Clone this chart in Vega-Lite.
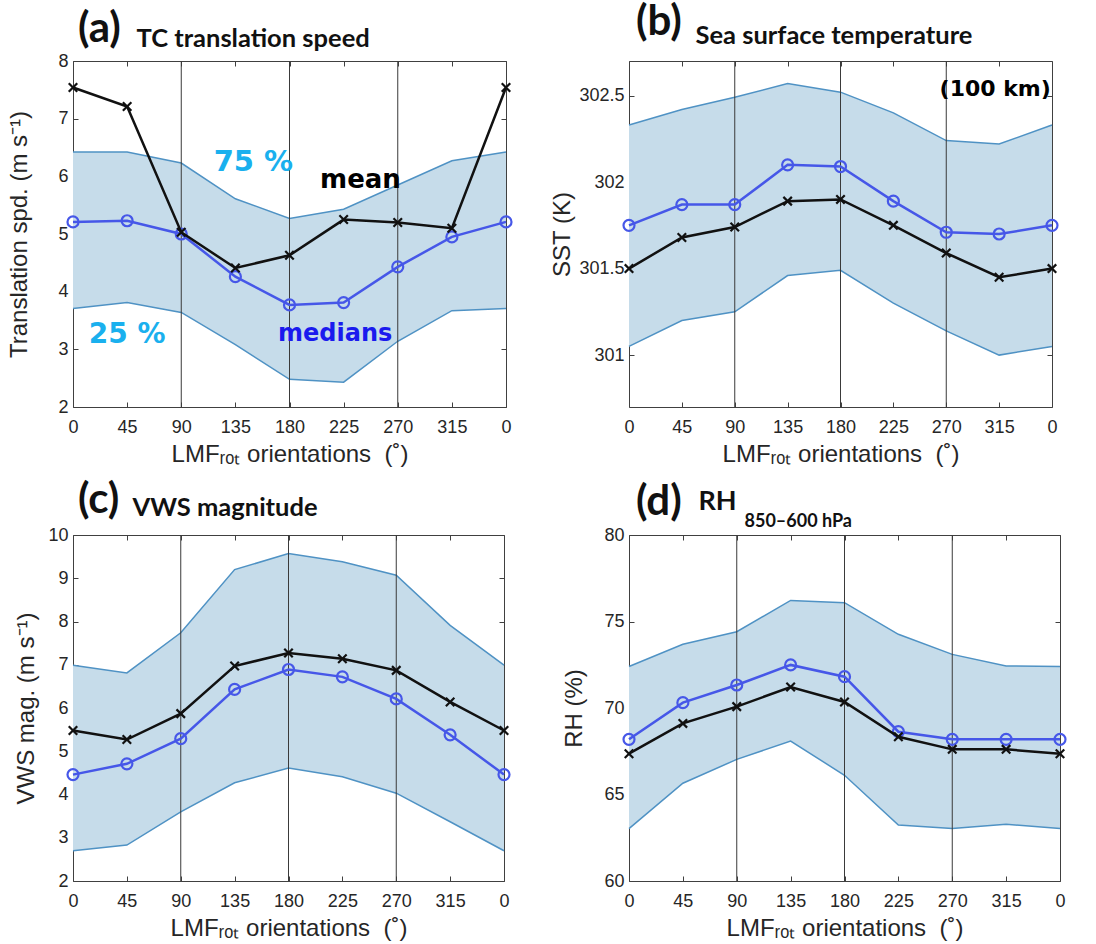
{
  "$schema": "https://vega.github.io/schema/vega-lite/v6.json",
  "background": "white",
  "padding": {"left": 7, "top": 1, "right": 5, "bottom": 5},
  "bounds": "flush",
  "columns": 2,
  "spacing": {"column": 123, "row": 128},
  "datasets": {
    "stats": [
      {"panel": "a", "deg": 0, "p25": 3.71, "p75": 6.42, "median": 5.21, "mean": 7.54},
      {"panel": "a", "deg": 45, "p25": 3.81, "p75": 6.42, "median": 5.23, "mean": 7.21},
      {"panel": "a", "deg": 90, "p25": 3.64, "p75": 6.23, "median": 5.0, "mean": 5.03},
      {"panel": "a", "deg": 135, "p25": 3.08, "p75": 5.61, "median": 4.26, "mean": 4.41},
      {"panel": "a", "deg": 180, "p25": 2.48, "p75": 5.27, "median": 3.77, "mean": 4.63},
      {"panel": "a", "deg": 225, "p25": 2.43, "p75": 5.43, "median": 3.81, "mean": 5.25},
      {"panel": "a", "deg": 270, "p25": 3.14, "p75": 5.85, "median": 4.43, "mean": 5.2},
      {"panel": "a", "deg": 315, "p25": 3.67, "p75": 6.27, "median": 4.95, "mean": 5.1},
      {"panel": "a", "deg": 360, "p25": 3.71, "p75": 6.42, "median": 5.21, "mean": 7.54},
      {"panel": "b", "deg": 0, "p25": 301.05, "p75": 302.33, "median": 301.75, "mean": 301.5},
      {"panel": "b", "deg": 45, "p25": 301.2, "p75": 302.42, "median": 301.87, "mean": 301.68},
      {"panel": "b", "deg": 90, "p25": 301.25, "p75": 302.49, "median": 301.87, "mean": 301.74},
      {"panel": "b", "deg": 135, "p25": 301.46, "p75": 302.57, "median": 302.1, "mean": 301.89},
      {"panel": "b", "deg": 180, "p25": 301.49, "p75": 302.52, "median": 302.09, "mean": 301.9},
      {"panel": "b", "deg": 225, "p25": 301.3, "p75": 302.4, "median": 301.89, "mean": 301.75},
      {"panel": "b", "deg": 270, "p25": 301.14, "p75": 302.24, "median": 301.71, "mean": 301.59},
      {"panel": "b", "deg": 315, "p25": 301.0, "p75": 302.22, "median": 301.7, "mean": 301.45},
      {"panel": "b", "deg": 360, "p25": 301.05, "p75": 302.33, "median": 301.75, "mean": 301.5},
      {"panel": "c", "deg": 0, "p25": 2.7, "p75": 6.99, "median": 4.46, "mean": 5.48},
      {"panel": "c", "deg": 45, "p25": 2.83, "p75": 6.81, "median": 4.71, "mean": 5.27},
      {"panel": "c", "deg": 90, "p25": 3.6, "p75": 7.74, "median": 5.29, "mean": 5.87},
      {"panel": "c", "deg": 135, "p25": 4.27, "p75": 9.2, "median": 6.43, "mean": 6.97},
      {"panel": "c", "deg": 180, "p25": 4.61, "p75": 9.57, "median": 6.89, "mean": 7.27},
      {"panel": "c", "deg": 225, "p25": 4.41, "p75": 9.38, "median": 6.72, "mean": 7.14},
      {"panel": "c", "deg": 270, "p25": 4.03, "p75": 9.07, "median": 6.21, "mean": 6.87},
      {"panel": "c", "deg": 315, "p25": 3.37, "p75": 7.91, "median": 5.38, "mean": 6.14},
      {"panel": "c", "deg": 360, "p25": 2.7, "p75": 6.99, "median": 4.46, "mean": 5.48},
      {"panel": "d", "deg": 0, "p25": 63.03, "p75": 72.4, "median": 68.19, "mean": 67.36},
      {"panel": "d", "deg": 45, "p25": 65.65, "p75": 73.68, "median": 70.31, "mean": 69.11},
      {"panel": "d", "deg": 90, "p25": 67.03, "p75": 74.41, "median": 71.33, "mean": 70.08},
      {"panel": "d", "deg": 135, "p25": 68.09, "p75": 76.22, "median": 72.49, "mean": 71.21},
      {"panel": "d", "deg": 180, "p25": 66.11, "p75": 76.09, "median": 71.81, "mean": 70.35},
      {"panel": "d", "deg": 225, "p25": 63.24, "p75": 74.26, "median": 68.63, "mean": 68.34},
      {"panel": "d", "deg": 270, "p25": 63.03, "p75": 73.1, "median": 68.19, "mean": 67.61},
      {"panel": "d", "deg": 315, "p25": 63.28, "p75": 72.43, "median": 68.19, "mean": 67.61},
      {"panel": "d", "deg": 360, "p25": 63.03, "p75": 72.4, "median": 68.19, "mean": 67.36}
    ],
    "dividers": [{"deg": 90}, {"deg": 180}, {"deg": 270}]
  },
  "data": {"name": "stats"},
  "concat": [
    {
      "width": 433, "height": 346,
      "title": {"text": "(a)", "anchor": "start", "frame": "group", "font": "Lato", "fontSize": 42, "fontWeight": "bold", "color": "#111111", "offset": 0, "dx": 5, "dy": 25},
      "transform": [{"filter": "datum.panel === 'a'"}],
      "resolve": {"axis": {"x": "independent", "y": "independent"}},
      "layer": [
        {"mark": {"type": "area", "color": "#c6dcea", "opacity": 1},
         "encoding": {
           "x": {"field": "deg", "type": "quantitative", "scale": {"domain": [0, 360], "nice": false},
                 "axis": {"orient": "bottom", "values": [0, 45, 90, 135, 180, 225, 270, 315, 360], "labelExpr": "'' + (datum.value % 360)", "title": "LMFᵣₒₜ orientations\u00a0 (˚)", "labelPadding": 16, "titlePadding": 6}},
           "y": {"field": "p25", "type": "quantitative", "scale": {"domain": [2, 8], "nice": false, "zero": false},
                 "axis": {"orient": "left", "values": [2, 3, 4, 5, 6, 7, 8], "format": "d", "title": "Translation spd. (m s⁻¹)", "labelPadding": 10, "titlePadding": 26}},
           "y2": {"field": "p75"}}},
        {"mark": {"type": "line", "color": "#4f92c4", "strokeWidth": 1.5},
         "encoding": {
           "x": {"field": "deg", "type": "quantitative",
                 "axis": {"orient": "top", "values": [0, 45, 90, 135, 180, 225, 270, 315, 360], "labels": false, "title": "TC translation speed", "titleFont": "Lato", "titleFontSize": 25.5, "titleFontWeight": "bold", "titleColor": "#111111", "titleAngle": 0, "titleAlign": "left", "titleBaseline": "alphabetic", "titleX": 63, "titleY": -15}},
           "y": {"field": "p75", "type": "quantitative",
                 "axis": {"orient": "right", "values": [2, 3, 4, 5, 6, 7, 8], "labels": false, "title": null}}}},
        {"mark": {"type": "line", "color": "#4f92c4", "strokeWidth": 1.5},
         "encoding": {"x": {"field": "deg", "type": "quantitative", "axis": null}, "y": {"field": "p25", "type": "quantitative", "axis": null}}},
        {"data": {"name": "dividers"}, "mark": {"type": "rule", "color": "#3a3a3a", "strokeWidth": 1},
         "encoding": {"x": {"field": "deg", "type": "quantitative", "axis": null}}},
        {"mark": {"type": "line", "color": "#4657e8", "strokeWidth": 2.5, "point": {"shape": "circle", "filled": false, "size": 121, "strokeWidth": 2.2, "color": "#4657e8"}},
         "encoding": {"x": {"field": "deg", "type": "quantitative", "axis": null}, "y": {"field": "median", "type": "quantitative", "axis": null}}},
        {"mark": {"type": "line", "color": "#111111", "strokeWidth": 2.5, "point": {"shape": "M-1,-1L1,1M-1,1L1,-1", "filled": false, "size": 72, "strokeWidth": 2.2, "color": "#111111"}},
         "encoding": {"x": {"field": "deg", "type": "quantitative", "axis": null}, "y": {"field": "mean", "type": "quantitative", "axis": null}}},
        {"data": {"values": [{"note": "75 %"}]},
         "mark": {"type": "text", "font": "DejaVu Sans", "fontWeight": "bold", "fontSize": 29, "color": "#1ab0ee", "align": "center", "baseline": "alphabetic"},
         "encoding": {"x": {"datum": 150, "type": "quantitative", "axis": null}, "y": {"datum": 6.1, "type": "quantitative", "axis": null}, "text": {"field": "note"}}},
        {"data": {"values": [{"note": "mean"}]},
         "mark": {"type": "text", "font": "DejaVu Sans", "fontWeight": "bold", "fontSize": 26, "color": "#000000", "align": "center", "baseline": "alphabetic"},
         "encoding": {"x": {"datum": 239, "type": "quantitative", "axis": null}, "y": {"datum": 5.79, "type": "quantitative", "axis": null}, "text": {"field": "note"}}},
        {"data": {"values": [{"note": "25 %"}]},
         "mark": {"type": "text", "font": "DejaVu Sans", "fontWeight": "bold", "fontSize": 28, "color": "#1ab0ee", "align": "center", "baseline": "alphabetic"},
         "encoding": {"x": {"datum": 45, "type": "quantitative", "axis": null}, "y": {"datum": 3.11, "type": "quantitative", "axis": null}, "text": {"field": "note"}}},
        {"data": {"values": [{"note": "medians"}]},
         "mark": {"type": "text", "font": "DejaVu Sans", "fontWeight": "bold", "fontSize": 24, "color": "#1a1aee", "align": "center", "baseline": "alphabetic"},
         "encoding": {"x": {"datum": 218, "type": "quantitative", "axis": null}, "y": {"datum": 3.15, "type": "quantitative", "axis": null}, "text": {"field": "note"}}}
      ]
    },
    {
      "width": 423, "height": 346,
      "title": {"text": "(b)", "anchor": "start", "frame": "group", "font": "Lato", "fontSize": 42, "fontWeight": "bold", "color": "#111111", "offset": 0, "dx": 7, "dy": 21},
      "transform": [{"filter": "datum.panel === 'b'"}],
      "resolve": {"axis": {"x": "independent", "y": "independent"}},
      "layer": [
        {"mark": {"type": "area", "color": "#c6dcea", "opacity": 1},
         "encoding": {
           "x": {"field": "deg", "type": "quantitative", "scale": {"domain": [0, 360], "nice": false},
                 "axis": {"orient": "bottom", "values": [0, 45, 90, 135, 180, 225, 270, 315, 360], "labelExpr": "'' + (datum.value % 360)", "title": "LMFᵣₒₜ orientations\u00a0 (˚)", "labelPadding": 16, "titlePadding": 6}},
           "y": {"field": "p25", "type": "quantitative", "scale": {"domain": [300.7, 302.7], "nice": false, "zero": false},
                 "axis": {"orient": "left", "values": [301, 301.5, 302, 302.5], "format": "~g", "title": "SST (K)", "labelPadding": 10, "titlePadding": 4}},
           "y2": {"field": "p75"}}},
        {"mark": {"type": "line", "color": "#4f92c4", "strokeWidth": 1.5},
         "encoding": {
           "x": {"field": "deg", "type": "quantitative",
                 "axis": {"orient": "top", "values": [0, 45, 90, 135, 180, 225, 270, 315, 360], "labels": false, "title": "Sea surface temperature", "titleFont": "Lato", "titleFontSize": 25.5, "titleFontWeight": "bold", "titleColor": "#111111", "titleAngle": 0, "titleAlign": "left", "titleBaseline": "alphabetic", "titleX": 66, "titleY": -18}},
           "y": {"field": "p75", "type": "quantitative",
                 "axis": {"orient": "right", "values": [301, 301.5, 302, 302.5], "labels": false, "title": null}}}},
        {"mark": {"type": "line", "color": "#4f92c4", "strokeWidth": 1.5},
         "encoding": {"x": {"field": "deg", "type": "quantitative", "axis": null}, "y": {"field": "p25", "type": "quantitative", "axis": null}}},
        {"data": {"name": "dividers"}, "mark": {"type": "rule", "color": "#3a3a3a", "strokeWidth": 1},
         "encoding": {"x": {"field": "deg", "type": "quantitative", "axis": null}}},
        {"mark": {"type": "line", "color": "#4657e8", "strokeWidth": 2.5, "point": {"shape": "circle", "filled": false, "size": 121, "strokeWidth": 2.2, "color": "#4657e8"}},
         "encoding": {"x": {"field": "deg", "type": "quantitative", "axis": null}, "y": {"field": "median", "type": "quantitative", "axis": null}}},
        {"mark": {"type": "line", "color": "#111111", "strokeWidth": 2.5, "point": {"shape": "M-1,-1L1,1M-1,1L1,-1", "filled": false, "size": 72, "strokeWidth": 2.2, "color": "#111111"}},
         "encoding": {"x": {"field": "deg", "type": "quantitative", "axis": null}, "y": {"field": "mean", "type": "quantitative", "axis": null}}},
        {"data": {"values": [{"note": "(100 km)"}]},
         "mark": {"type": "text", "font": "DejaVu Sans", "fontWeight": "bold", "fontSize": 22, "color": "#000000", "align": "right", "baseline": "alphabetic"},
         "encoding": {"x": {"datum": 359, "type": "quantitative", "axis": null}, "y": {"datum": 302.5, "type": "quantitative", "axis": null}, "text": {"field": "note"}}}
      ]
    },
    {
      "width": 431, "height": 346,
      "title": {"text": "(c)", "anchor": "start", "frame": "group", "font": "Lato", "fontSize": 42, "fontWeight": "bold", "color": "#111111", "offset": 0, "dx": 5, "dy": 27},
      "transform": [{"filter": "datum.panel === 'c'"}],
      "resolve": {"axis": {"x": "independent", "y": "independent"}},
      "layer": [
        {"mark": {"type": "area", "color": "#c6dcea", "opacity": 1},
         "encoding": {
           "x": {"field": "deg", "type": "quantitative", "scale": {"domain": [0, 360], "nice": false},
                 "axis": {"orient": "bottom", "values": [0, 45, 90, 135, 180, 225, 270, 315, 360], "labelExpr": "'' + (datum.value % 360)", "title": "LMFᵣₒₜ orientations\u00a0 (˚)", "labelPadding": 16, "titlePadding": 6}},
           "y": {"field": "p25", "type": "quantitative", "scale": {"domain": [2, 10], "nice": false, "zero": false},
                 "axis": {"orient": "left", "values": [2, 3, 4, 5, 6, 7, 8, 9, 10], "format": "d", "title": "VWS mag. (m s⁻¹)", "labelPadding": 10, "titlePadding": 9}},
           "y2": {"field": "p75"}}},
        {"mark": {"type": "line", "color": "#4f92c4", "strokeWidth": 1.5},
         "encoding": {
           "x": {"field": "deg", "type": "quantitative",
                 "axis": {"orient": "top", "values": [0, 45, 90, 135, 180, 225, 270, 315, 360], "labels": false, "title": "VWS magnitude", "titleFont": "Lato", "titleFontSize": 25.5, "titleFontWeight": "bold", "titleColor": "#111111", "titleAngle": 0, "titleAlign": "left", "titleBaseline": "alphabetic", "titleX": 59, "titleY": -20}},
           "y": {"field": "p75", "type": "quantitative",
                 "axis": {"orient": "right", "values": [2, 3, 4, 5, 6, 7, 8, 9, 10], "labels": false, "title": null}}}},
        {"mark": {"type": "line", "color": "#4f92c4", "strokeWidth": 1.5},
         "encoding": {"x": {"field": "deg", "type": "quantitative", "axis": null}, "y": {"field": "p25", "type": "quantitative", "axis": null}}},
        {"data": {"name": "dividers"}, "mark": {"type": "rule", "color": "#3a3a3a", "strokeWidth": 1},
         "encoding": {"x": {"field": "deg", "type": "quantitative", "axis": null}}},
        {"mark": {"type": "line", "color": "#4657e8", "strokeWidth": 2.5, "point": {"shape": "circle", "filled": false, "size": 121, "strokeWidth": 2.2, "color": "#4657e8"}},
         "encoding": {"x": {"field": "deg", "type": "quantitative", "axis": null}, "y": {"field": "median", "type": "quantitative", "axis": null}}},
        {"mark": {"type": "line", "color": "#111111", "strokeWidth": 2.5, "point": {"shape": "M-1,-1L1,1M-1,1L1,-1", "filled": false, "size": 72, "strokeWidth": 2.2, "color": "#111111"}},
         "encoding": {"x": {"field": "deg", "type": "quantitative", "axis": null}, "y": {"field": "mean", "type": "quantitative", "axis": null}}}
      ]
    },
    {
      "width": 431, "height": 346,
      "title": {"text": "(d)", "anchor": "start", "frame": "group", "font": "Lato", "fontSize": 42, "fontWeight": "bold", "color": "#111111", "offset": 0, "dx": 7, "dy": 37},
      "transform": [{"filter": "datum.panel === 'd'"}],
      "resolve": {"axis": {"x": "independent", "y": "independent"}},
      "layer": [
        {"mark": {"type": "area", "color": "#c6dcea", "opacity": 1},
         "encoding": {
           "x": {"field": "deg", "type": "quantitative", "scale": {"domain": [0, 360], "nice": false},
                 "axis": {"orient": "bottom", "values": [0, 45, 90, 135, 180, 225, 270, 315, 360], "labelExpr": "'' + (datum.value % 360)", "title": "LMFᵣₒₜ orientations\u00a0 (˚)", "labelPadding": 16, "titlePadding": 6}},
           "y": {"field": "p25", "type": "quantitative", "scale": {"domain": [60, 80], "nice": false, "zero": false},
                 "axis": {"orient": "left", "values": [60, 65, 70, 75, 80], "format": "d", "title": "RH (%)", "labelPadding": 10, "titlePadding": 17}},
           "y2": {"field": "p75"}}},
        {"mark": {"type": "line", "color": "#4f92c4", "strokeWidth": 1.5},
         "encoding": {
           "x": {"field": "deg", "type": "quantitative",
                 "axis": {"orient": "top", "values": [0, 45, 90, 135, 180, 225, 270, 315, 360], "labels": false, "title": "RH", "titleFont": "Lato", "titleFontSize": 27, "titleFontWeight": "bold", "titleColor": "#111111", "titleAngle": 0, "titleAlign": "left", "titleBaseline": "alphabetic", "titleX": 69, "titleY": -26}},
           "y": {"field": "p75", "type": "quantitative",
                 "axis": {"orient": "right", "values": [60, 65, 70, 75, 80], "labels": false, "title": "850–600 hPa", "titleFont": "Lato", "titleFontSize": 18, "titleFontWeight": "bold", "titleColor": "#111111", "titleAngle": 0, "titleAlign": "left", "titleBaseline": "alphabetic", "titleX": -316, "titleY": -9}}}},
        {"mark": {"type": "line", "color": "#4f92c4", "strokeWidth": 1.5},
         "encoding": {"x": {"field": "deg", "type": "quantitative", "axis": null}, "y": {"field": "p25", "type": "quantitative", "axis": null}}},
        {"data": {"name": "dividers"}, "mark": {"type": "rule", "color": "#3a3a3a", "strokeWidth": 1},
         "encoding": {"x": {"field": "deg", "type": "quantitative", "axis": null}}},
        {"mark": {"type": "line", "color": "#4657e8", "strokeWidth": 2.5, "point": {"shape": "circle", "filled": false, "size": 121, "strokeWidth": 2.2, "color": "#4657e8"}},
         "encoding": {"x": {"field": "deg", "type": "quantitative", "axis": null}, "y": {"field": "median", "type": "quantitative", "axis": null}}},
        {"mark": {"type": "line", "color": "#111111", "strokeWidth": 2.5, "point": {"shape": "M-1,-1L1,1M-1,1L1,-1", "filled": false, "size": 72, "strokeWidth": 2.2, "color": "#111111"}},
         "encoding": {"x": {"field": "deg", "type": "quantitative", "axis": null}, "y": {"field": "mean", "type": "quantitative", "axis": null}}}
      ]
    }
  ],
  "config": {
    "view": {"stroke": null},
    "axis": {
      "labelFont": "Liberation Sans", "labelFontSize": 18, "labelColor": "#262626",
      "titleFont": "Liberation Sans", "titleFontSize": 24, "titleFontWeight": "normal", "titleColor": "#262626",
      "domainColor": "#404040", "domainWidth": 1, "tickColor": "#404040", "tickWidth": 1, "tickSize": -5,
      "grid": false, "labelFlush": false, "labelOverlap": false, "zindex": 1
    }
  }
}
